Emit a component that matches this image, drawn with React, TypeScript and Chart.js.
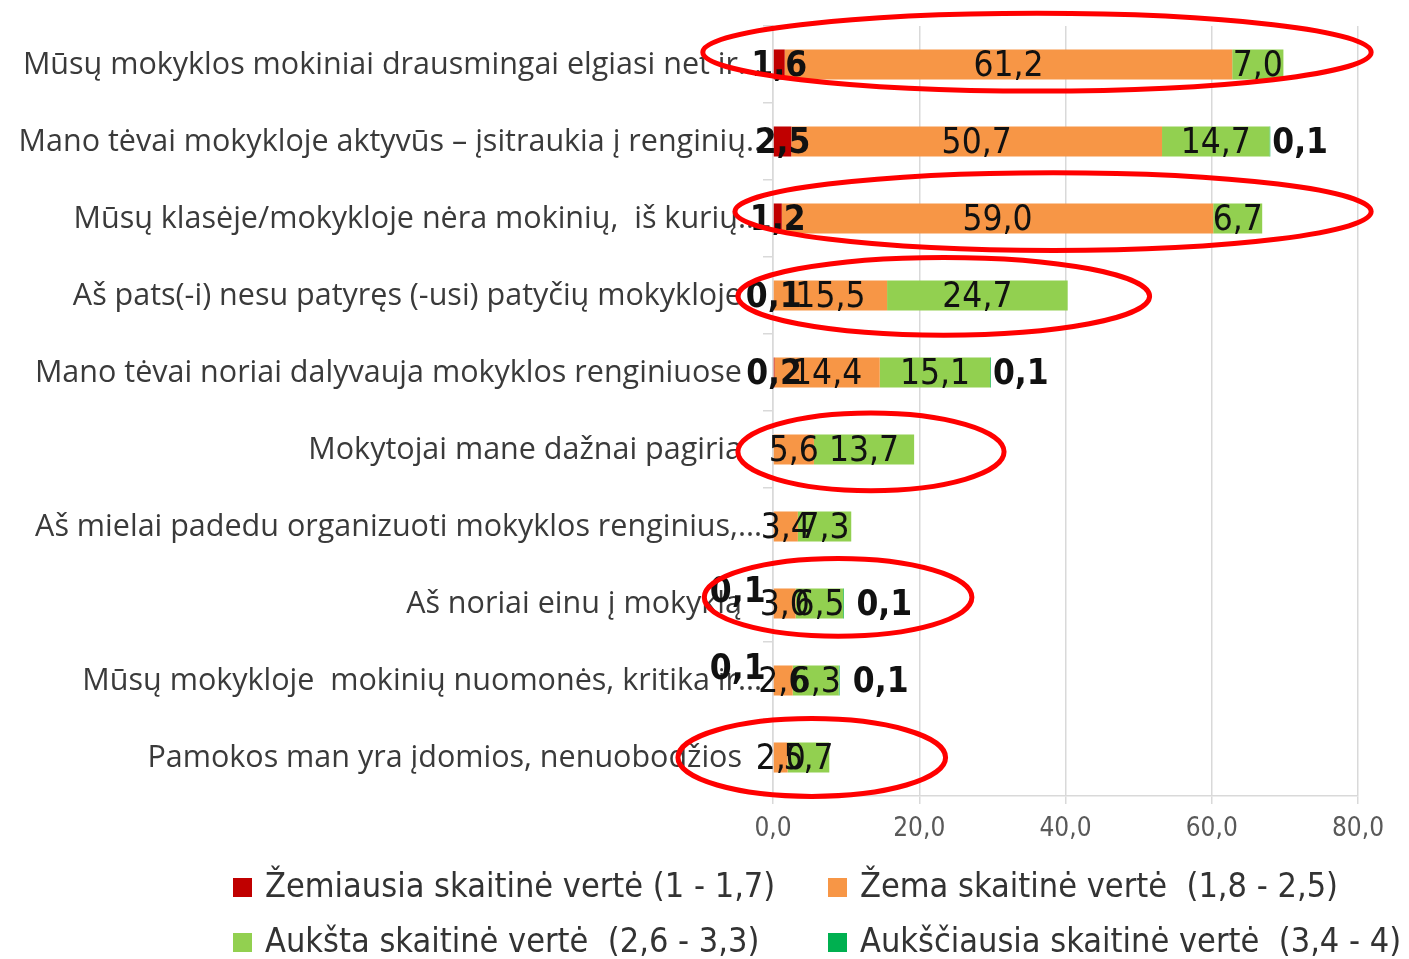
import React, { useEffect, useRef } from "react";
import { Chart, registerables } from "chart.js";

Chart.register(...registerables);

const categories = [
  "Mūsų mokyklos mokiniai drausmingai elgiasi net ir...",
  "Mano tėvai mokykloje aktyvūs – įsitraukia į renginių..",
  "Mūsų klasėje/mokykloje nėra mokinių,  iš kurių...",
  "Aš pats(-i) nesu patyręs (-usi) patyčių mokykloje",
  "Mano tėvai noriai dalyvauja mokyklos renginiuose",
  "Mokytojai mane dažnai pagiria",
  "Aš mielai padedu organizuoti mokyklos renginius,...",
  "Aš noriai einu į mokyklą",
  "Mūsų mokykloje  mokinių nuomonės, kritika ir...",
  "Pamokos man yra įdomios, nenuobodžios",
];

const seriesNames = [
  "Žemiausia skaitinė vertė (1 - 1,7)",
  "Žema skaitinė vertė  (1,8 - 2,5)",
  "Aukšta skaitinė vertė  (2,6 - 3,3)",
  "Aukščiausia skaitinė vertė  (3,4 - 4)",
];

const lowestValues = [1.6, 2.5, 1.2, 0.1, 0.2, null, null, 0.1, 0.1, null];
const lowValues = [61.2, 50.7, 59.0, 15.5, 14.4, 5.6, 3.4, 3.0, 2.6, 2.0];
const highValues = [7.0, 14.7, 6.7, 24.7, 15.1, 13.7, 7.3, 6.5, 6.3, 5.7];
const highestValues = [null, 0.1, null, null, 0.1, null, null, 0.1, 0.1, null];

const seriesColors = ["#c00000", "#f79646", "#92d050", "#00b050"];
const seriesBold = [true, false, false, true];

const xMin = 0;
const xMax = 80;
const xStep = 20;

// hand-drawn red highlight ellipses (annotation), in category index / value units
const highlightRows = [0, 2, 3, 5, 7, 9];
const highlightFrom = [-9.6, -5.2, -4.8, -4.8, -9.4, -13.0];
const highlightTo = [81.8, 81.8, 51.5, 31.6, 27.2, 23.6];
const highlightShift = [-0.16, -0.09, 0.01, 0.03, -0.08, 0.0];

const fmt = (v: number) => v.toFixed(1).replace(".", ",");

const NARROW = '"Liberation Sans Narrow", "DejaVu Sans Condensed", "Open Sans", sans-serif';
const CAT_FONT = '30.5px "Open Sans", sans-serif';

// category labels: right-aligned; truncated ones ("..") overflow a bit towards the axis
const categoryLabelPlugin = {
  id: "categoryLabels",
  beforeDatasetsDraw(chart: any) {
    const ctx = chart.ctx;
    const ys = chart.scales.y;
    const axisX = chart.chartArea.left;
    ctx.save();
    ctx.font = CAT_FONT;
    ctx.fillStyle = "#3a3a3a";
    ctx.textAlign = "right";
    ctx.textBaseline = "middle";
    chart.data.labels.forEach((lab: string, i: number) => {
      const truncated = lab.endsWith("..");
      const x = axisX - 31 + (truncated ? 20 : 0);
      ctx.fillText(lab, x, ys.getPixelForValue(i) + 1);
    });
    ctx.restore();
  },
};

const labelPlugin = {
  id: "barLabels",
  afterDatasetsDraw(chart: any) {
    const ctx = chart.ctx;
    ctx.save();
    ctx.textBaseline = "middle";
    const n = chart.data.labels.length;
    for (let i = 0; i < n; i++) {
      let prevRight = -Infinity;
      chart.data.datasets.forEach((ds: any, di: number) => {
        const v = ds.data[i];
        if (v === null || v === undefined) return;
        const el = chart.getDatasetMeta(di).data[i];
        const p = el.getProps(["x", "y", "base"], true);
        ctx.font = `${seriesBold[di] ? "bold " : ""}35px ${NARROW}`;
        ctx.fillStyle = "#111111";
        const txt = fmt(v);
        const w = ctx.measureText(txt).width;
        if (di === 3) {
          ctx.textAlign = "left";
          const sx = Math.max(p.x + 2, prevRight + 12);
          ctx.fillText(txt, sx, p.y + 2);
          prevRight = sx + w;
        } else {
          let cx = (p.x + p.base) / 2;
          let cy = p.y + 2;
          // lowest-series label pushed up-left when the next segment is too narrow for its label
          if (di === 0) {
            const next = chart.data.datasets[1].data[i];
            const nextEl = chart.getDatasetMeta(1).data[i];
            if (next !== null && nextEl) {
              const np = nextEl.getProps(["x", "base"], true);
              if (np.x - np.base < w) {
                cx = p.base - 36;
                cy = p.y - 11;
              }
            }
          }
          ctx.textAlign = "center";
          ctx.fillText(txt, cx, cy);
          prevRight = Math.max(prevRight, cx + w / 2);
        }
      });
    }
    ctx.restore();
  },
};

const ellipsePlugin = {
  id: "highlightEllipses",
  afterDraw(chart: any) {
    const ctx = chart.ctx;
    const xs = chart.scales.x;
    const ys = chart.scales.y;
    const catH = ys.getPixelForValue(1) - ys.getPixelForValue(0);
    ctx.save();
    ctx.strokeStyle = "#ff0000";
    ctx.lineWidth = 5;
    highlightRows.forEach((row, k) => {
      const x1 = xs.getPixelForValue(highlightFrom[k]);
      const x2 = xs.getPixelForValue(highlightTo[k]);
      const cy = ys.getPixelForValue(row) + highlightShift[k] * catH;
      ctx.beginPath();
      ctx.ellipse((x1 + x2) / 2, cy, (x2 - x1) / 2, catH * 0.505, 0, 0, Math.PI * 2);
      ctx.stroke();
    });
    ctx.restore();
  },
};

const legendPlugin = {
  id: "gridLegend",
  afterDraw(chart: any) {
    const ctx = chart.ctx;
    const colX = [233, 828];
    const rowY = [887, 942];
    ctx.save();
    ctx.textBaseline = "middle";
    ctx.textAlign = "left";
    ctx.font = `34px ${NARROW}`;
    seriesNames.forEach((name, i) => {
      const x = colX[i % 2];
      const y = rowY[Math.floor(i / 2)];
      ctx.fillStyle = seriesColors[i];
      ctx.fillRect(x, y - 9, 19, 19);
      ctx.fillStyle = "#333333";
      ctx.fillText(name, x + 32, y + 1);
    });
    ctx.restore();
  },
};

export default function App() {
  const ref = useRef<HTMLCanvasElement>(null);
  useEffect(() => {
    document.body.style.margin = "0";
    const seriesValues = [lowestValues, lowValues, highValues, highestValues];
    const chart = new Chart(ref.current as HTMLCanvasElement, {
      type: "bar",
      data: {
        labels: categories,
        datasets: seriesNames.map((name, i) => ({
          label: name,
          data: seriesValues[i] as any,
          backgroundColor: seriesColors[i],
          borderWidth: 0,
          barPercentage: 0.39,
          categoryPercentage: 1,
        })),
      },
      options: {
        indexAxis: "y",
        responsive: false,
        animation: false,
        layout: { padding: { left: 0, right: 51, top: 26, bottom: 113 } },
        plugins: {
          legend: { display: false },
          tooltip: { enabled: false },
        },
        scales: {
          x: {
            stacked: true,
            min: xMin,
            max: xMax,
            ticks: {
              stepSize: xStep,
              callback: (v: any) => fmt(Number(v)),
              color: "#595959",
              font: { size: 26, family: NARROW },
              padding: 10,
            },
            grid: { color: "#d9d9d9", lineWidth: 1.5, tickLength: 8 },
            border: { color: "#d9d9d9", width: 1.5 },
            afterFit: (s: any) => {
              s.height = 50;
              s.paddingLeft = 0;
              s.paddingRight = 0;
            },
          },
          y: {
            stacked: true,
            ticks: {
              color: "rgba(0,0,0,0)",
              font: { size: 30.5, family: '"Open Sans", sans-serif' },
              padding: 20,
              autoSkip: false,
            },
            grid: { drawOnChartArea: false, color: "#d9d9d9", tickLength: 10, lineWidth: 1.5 },
            border: { color: "#d9d9d9", width: 1.5 },
            afterFit: (s: any) => {
              s.width = 773;
              s.paddingTop = 0;
              s.paddingBottom = 0;
            },
          },
        },
      },
      plugins: [categoryLabelPlugin, labelPlugin, ellipsePlugin, legendPlugin],
    });
    return () => chart.destroy();
  }, []);
  return (
    <div style={{ width: 1409, height: 959 }}>
      <canvas ref={ref} width={1409} height={959} />
    </div>
  );
}
